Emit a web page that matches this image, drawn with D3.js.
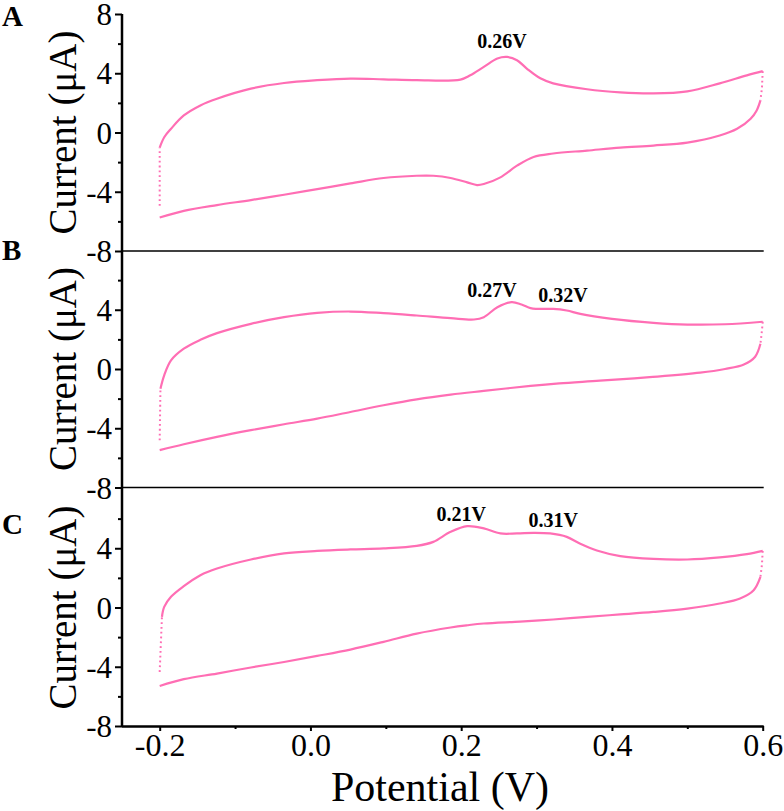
<!DOCTYPE html>
<html>
<head>
<meta charset="utf-8">
<script src="https://cdn.jsdelivr.net/npm/d3@7"></script>
<style>
  html, body { margin: 0; padding: 0; background: #fff; }
  svg { display: block; }
  text { font-family: "Liberation Serif", "Times New Roman", serif; fill: #000; }
</style>
</head>
<body>
<svg id="chart" width="784" height="811"></svg>
<script>
// ---------- data ----------
const panelLetters = ["A", "B", "C"];
const potentialTicks = [-0.2, 0.0, 0.2, 0.4, 0.6];
const potentialMinorTicks = [-0.1, 0.1, 0.3, 0.5];
const currentTicks = [-8, -4, 0, 4, 8];
const currentMinorTicks = [-6, -2, 2, 6];

// [potential (V), current (µA)]
const forwardA = [[-0.2,-4.95],[-0.2,-1.02],[-0.194,-0.32],[-0.185,0.25],[-0.168,1.15],[-0.146,1.83],[-0.124,2.28],[-0.079,2.96],[-0.035,3.34],[0.009,3.53],[0.053,3.64],[0.097,3.59],[0.141,3.53],[0.199,3.57],[0.212,3.86],[0.230,4.43],[0.248,5.0],[0.261,5.1],[0.274,4.88],[0.287,4.32],[0.305,3.66],[0.322,3.32],[0.367,2.92],[0.411,2.71],[0.455,2.64],[0.50,2.78],[0.543,3.32],[0.579,3.86],[0.60,4.14]];
const reverseA = [[0.60,4.14],[0.599,3.0],[0.597,2.17],[0.592,1.49],[0.584,0.93],[0.566,0.25],[0.543,-0.2],[0.50,-0.68],[0.455,-0.88],[0.411,-1.02],[0.367,-1.22],[0.322,-1.42],[0.296,-1.65],[0.274,-2.24],[0.252,-3.03],[0.230,-3.48],[0.221,-3.55],[0.208,-3.37],[0.186,-3.07],[0.163,-2.92],[0.141,-2.92],[0.097,-3.07],[0.053,-3.44],[0.009,-3.82],[-0.035,-4.2],[-0.079,-4.56],[-0.124,-4.9],[-0.168,-5.29],[-0.2,-5.74]];

const forwardB = [[-0.2,-4.81],[-0.199,-1.33],[-0.194,-0.43],[-0.185,0.58],[-0.168,1.37],[-0.146,1.97],[-0.124,2.42],[-0.079,3.05],[-0.035,3.5],[0.009,3.79],[0.053,3.88],[0.097,3.77],[0.141,3.61],[0.186,3.43],[0.217,3.34],[0.230,3.5],[0.248,4.17],[0.267,4.51],[0.28,4.35],[0.292,4.11],[0.30,4.06],[0.322,4.06],[0.34,3.95],[0.358,3.72],[0.40,3.39],[0.455,3.12],[0.50,3.0],[0.55,3.02],[0.60,3.19]];
const reverseB = [[0.60,3.19],[0.599,2.6],[0.597,1.7],[0.59,0.83],[0.575,0.3],[0.55,0.0],[0.517,-0.25],[0.45,-0.55],[0.384,-0.79],[0.33,-0.97],[0.292,-1.14],[0.230,-1.48],[0.186,-1.73],[0.141,-2.05],[0.097,-2.45],[0.053,-2.9],[0.009,-3.35],[-0.035,-3.73],[-0.079,-4.13],[-0.124,-4.58],[-0.168,-5.08],[-0.2,-5.48]];

const forwardC = [[-0.2,-4.35],[-0.197,-0.63],[-0.194,0.04],[-0.185,0.72],[-0.168,1.44],[-0.146,2.18],[-0.124,2.63],[-0.079,3.24],[-0.035,3.65],[0.009,3.82],[0.053,3.92],[0.097,3.99],[0.141,4.16],[0.163,4.43],[0.186,5.11],[0.208,5.49],[0.230,5.34],[0.252,5.0],[0.274,5.0],[0.296,5.04],[0.318,5.0],[0.34,4.77],[0.358,4.3],[0.38,3.85],[0.411,3.47],[0.455,3.28],[0.50,3.24],[0.543,3.38],[0.579,3.6],[0.60,3.82]];
const reverseC = [[0.60,3.82],[0.599,2.9],[0.597,2.07],[0.588,1.17],[0.57,0.61],[0.543,0.27],[0.50,-0.07],[0.455,-0.3],[0.411,-0.47],[0.367,-0.63],[0.322,-0.81],[0.278,-0.95],[0.230,-1.08],[0.208,-1.2],[0.186,-1.35],[0.141,-1.76],[0.097,-2.32],[0.053,-2.84],[0.009,-3.27],[-0.035,-3.68],[-0.079,-4.05],[-0.124,-4.46],[-0.168,-4.84],[-0.2,-5.3]];

// peak annotations: [potential of text centre (V), current of text baseline (µA), label]
const peakLabelsA = [[0.254, 5.69, "0.26V"]];
const peakLabelsB = [[0.241, 4.87, "0.27V"], [0.335, 4.53, "0.32V"]];
const peakLabelsC = [[0.200, 5.83, "0.21V"], [0.322, 5.43, "0.31V"]];

// ---------- layout ----------
const svg = d3.select("#chart");
const lineColor = "#ff6eb4";
const xLeft = 122, xRight = 762.7;
const panelTops = [14, 250.5, 489];
const panelH = 237;

const x = d3.scaleLinear().domain([-0.25, 0.6]).range([xLeft, xRight]);

const panels = [
  { letter: panelLetters[0], fwd: forwardA, rev: reverseA, labels: peakLabelsA, letterY: 26 },
  { letter: panelLetters[1], fwd: forwardB, rev: reverseB, labels: peakLabelsB, letterY: 260 },
  { letter: panelLetters[2], fwd: forwardC, rev: reverseC, labels: peakLabelsC, letterY: 534 }
];
const dotF = 1, dotR = 2;

panels.forEach((p, i) => {
  const top = panelTops[i];
  const y = d3.scaleLinear().domain([-8, 8]).range([top + panelH, top]);
  const g = svg.append("g");

  // y axis (major)
  const yAxis = d3.axisLeft(y).tickValues(currentTicks)
    .tickSize(7).tickPadding(3)
    .tickFormat(d => String(d));
  const ga = g.append("g").attr("transform", `translate(${xLeft},0)`).call(yAxis);
  ga.select(".domain").remove();
  ga.selectAll(".tick line").attr("stroke", "#000").attr("stroke-width", 2);
  ga.selectAll(".tick text").style("font-size", "31px").attr("dy", "0.34em");
  if (i > 0) ga.selectAll(".tick").filter(d => d === 8).remove();

  // y axis (minor)
  const ym = d3.axisLeft(y).tickValues(currentMinorTicks).tickSize(4).tickFormat("");
  const gm = g.append("g").attr("transform", `translate(${xLeft},0)`).call(ym);
  gm.select(".domain").remove();
  gm.selectAll(".tick line").attr("stroke", "#000").attr("stroke-width", 2);

  // y label
  g.append("text")
    .attr("transform", `translate(76,${top + panelH / 2}) rotate(-90)`)
    .attr("text-anchor", "middle")
    .style("font-size", "39px")
    .text("Current (μA)");

  // panel letter
  g.append("text")
    .attr("x", 2).attr("y", p.letterY)
    .style("font-size", "29px").style("font-weight", "bold")
    .text(p.letter);

  const line = d3.line().x(d => x(d[0])).y(d => y(d[1])).curve(d3.curveCatmullRom.alpha(0.5));
  const straight = d3.line().x(d => x(d[0])).y(d => y(d[1]));

  // dotted steep parts
  g.append("path").attr("d", straight(p.fwd.slice(0, dotF + 1)))
    .attr("fill", "none").attr("stroke", lineColor).attr("stroke-width", 2)
    .attr("stroke-dasharray", "1.8 3");
  g.append("path").attr("d", straight(p.rev.slice(0, dotR + 1)))
    .attr("fill", "none").attr("stroke", lineColor).attr("stroke-width", 2)
    .attr("stroke-dasharray", "1.8 3");

  // solid curves
  g.append("path").attr("d", line(p.fwd.slice(dotF)))
    .attr("fill", "none").attr("stroke", lineColor).attr("stroke-width", 2.2);
  g.append("path").attr("d", line(p.rev.slice(dotR)))
    .attr("fill", "none").attr("stroke", lineColor).attr("stroke-width", 2.2);

  // peak labels
  p.labels.forEach(lab => {
    g.append("text")
      .attr("x", x(lab[0]))
      .attr("y", y(lab[1]))
      .attr("text-anchor", "middle")
      .style("font-size", "20px").style("font-weight", "bold")
      .text(lab[2]);
  });

  // separator line (bottom of panels A and B)
  if (i < 2) {
    g.append("line")
      .attr("x1", xLeft).attr("x2", xRight + 1)
      .attr("y1", top + panelH).attr("y2", top + panelH)
      .attr("stroke", "#000").attr("stroke-width", 1.5);
  }
});

// left spine across all panels
svg.append("line")
  .attr("x1", xLeft).attr("x2", xLeft)
  .attr("y1", panelTops[0]).attr("y2", panelTops[2] + panelH + 1)
  .attr("stroke", "#000").attr("stroke-width", 2.5);

// x axis
const bottomY = panelTops[2] + panelH;
const xAxis = d3.axisBottom(x).tickValues(potentialTicks).tickSize(5).tickPadding(2)
  .tickFormat(d => d.toFixed(1));
const gx = svg.append("g").attr("transform", `translate(0,${bottomY})`).call(xAxis);
gx.select(".domain").attr("stroke", "#000").attr("stroke-width", 2.5)
  .attr("d", `M${xLeft},0.5H${xRight + 1}`);
gx.selectAll(".tick line").attr("stroke", "#000").attr("stroke-width", 2);
gx.selectAll(".tick text").style("font-size", "32px");

const xm = d3.axisBottom(x).tickValues(potentialMinorTicks).tickSize(3).tickFormat("");
const gxm = svg.append("g").attr("transform", `translate(0,${bottomY})`).call(xm);
gxm.select(".domain").remove();
gxm.selectAll(".tick line").attr("stroke", "#000").attr("stroke-width", 2);

svg.append("text")
  .attr("x", 440).attr("y", 801)
  .attr("text-anchor", "middle")
  .style("font-size", "42px")
  .text("Potential (V)");
</script>
</body>
</html>
